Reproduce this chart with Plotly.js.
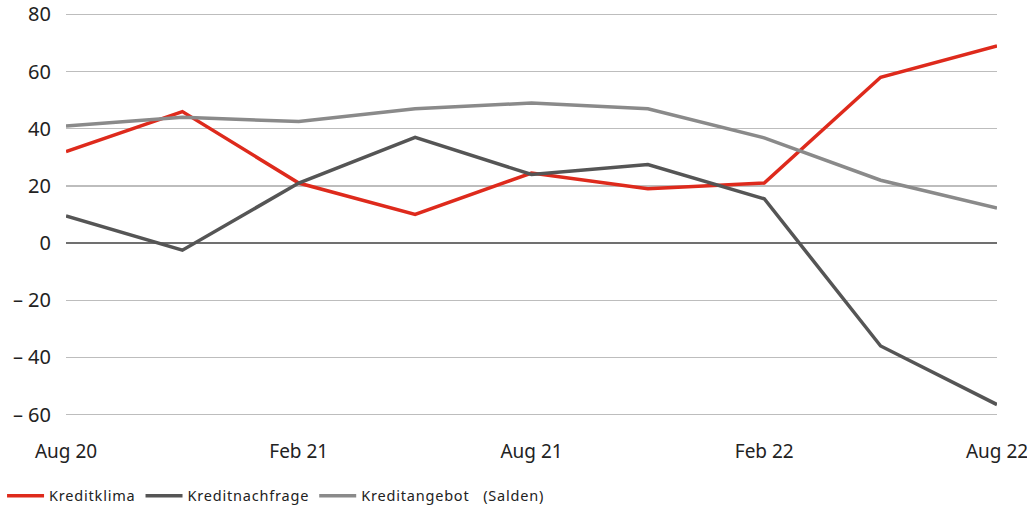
<!DOCTYPE html>
<html>
<head>
<meta charset="utf-8">
<script src="https://cdn.plot.ly/plotly-3.0.1.min.js"></script>
<style>
html,body{margin:0;padding:0;background:#fff;}
#chart{width:1027px;height:508px;}
.legendtext{letter-spacing:0.8px;}
</style>
</head>
<body>
<div id="chart"></div>
<script>
const categories = ['Aug 20','Nov 20','Feb 21','May 21','Aug 21','Nov 21','Feb 22','May 22','Aug 22'];
const kreditklima = [32, 46, 21, 10, 24.5, 19, 21, 58, 69];
const kreditnachfrage = [9.5, -2.5, 21, 37, 24, 27.5, 15.5, -36, -56.5];
const kreditangebot = [41, 44, 42.5, 47, 49, 47, 36.8, 22, 12.3];
const xTickLabels = ['Aug 20','Feb 21','Aug 21','Feb 22','Aug 22'];
const yTickVals = [-60,-40,-20,0,20,40,60,80];
const yTickText = ['\u2013 60','\u2013 40','\u2013 20','0','20','40','60','80'];

const traces = [
  {x: categories, y: kreditklima, name: 'Kreditklima', type: 'scatter', mode: 'lines',
   line: {color: '#de2a1c', width: 3.5}},
  {x: categories, y: kreditnachfrage, name: 'Kreditnachfrage', type: 'scatter', mode: 'lines',
   line: {color: '#555555', width: 3.5}},
  {x: categories, y: kreditangebot, name: 'Kreditangebot\u00a0\u00a0\u00a0(Salden)', type: 'scatter', mode: 'lines',
   line: {color: '#8a8a8a', width: 3.5}}
];

const layout = {
  width: 1027, height: 508,
  margin: {l: 66, r: 30, t: 13, b: 92},
  paper_bgcolor: '#fff', plot_bgcolor: '#fff',
  font: {family: '"Noto Sans", "Open Sans", sans-serif', color: '#222'},
  showlegend: true,
  legend: {orientation: 'h', xref: 'container', yref: 'container', x: 0.002, xanchor: 'left',
           y: 0.024, yanchor: 'middle',
           font: {size: 14.5, color: '#222'}, itemwidth: 37,
           bgcolor: 'rgba(0,0,0,0)'},
  xaxis: {type: 'category', range: [0, 8], tickmode: 'array', tickvals: xTickLabels, ticktext: xTickLabels,
          showgrid: false, zeroline: false, showline: false, ticks: '', ticklabelstandoff: 22,
          tickfont: {size: 19, color: '#222'}},
  yaxis: {range: [-60.5, 80.5], tickmode: 'array', tickvals: yTickVals, ticktext: yTickText,
          showgrid: true, gridcolor: '#bdbdbd', gridwidth: 1.3,
          zeroline: true, zerolinecolor: '#707070', zerolinewidth: 1.3,
          showline: false, ticks: '', ticklabelstandoff: 14,
          tickfont: {size: 20, color: '#222'}}
};

Plotly.newPlot('chart', traces, layout, {displayModeBar: false, staticPlot: true});
</script>
</body>
</html>
